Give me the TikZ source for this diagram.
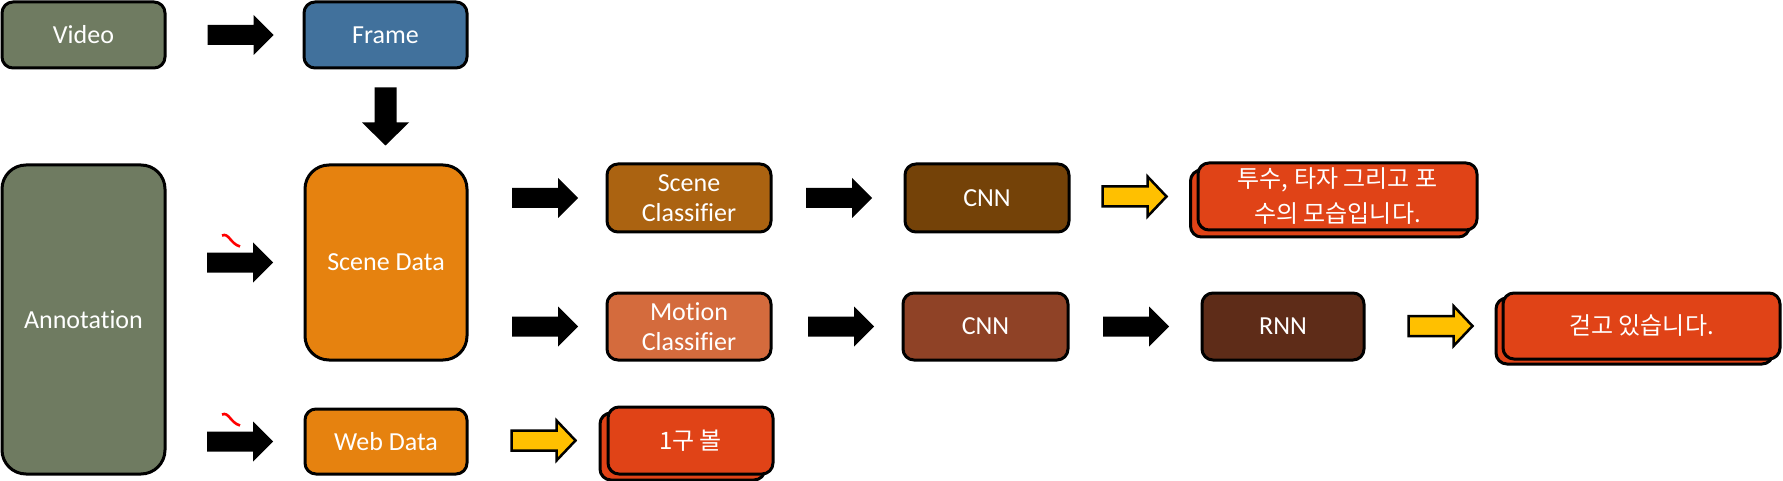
\documentclass[tikz,border=0pt]{standalone}
\usepackage{fontspec}
\setmainfont{Carlito}[Ligatures=NoCommon]
\newfontfamily\kr{Noto Sans CJK KR}
\usetikzlibrary{calc}
\definecolor{grayg}{HTML}{6F7B61}
\definecolor{blueb}{HTML}{41719C}
\definecolor{orangeb}{HTML}{E6820F}
\definecolor{scenec}{HTML}{AB6311}
\definecolor{cnna}{HTML}{744208}
\definecolor{motionc}{HTML}{D46B3D}
\definecolor{cnnb}{HTML}{8F4226}
\definecolor{rnnc}{HTML}{5E2C18}
\definecolor{redbox}{HTML}{E04317}
\definecolor{yellowa}{HTML}{FFC000}
\tikzset{
  box/.style={draw=black, line width=3pt, rounded corners=11pt, text=white, align=center,
    font=\fontsize{26}{30}\selectfont, inner sep=0pt},
  krbox/.style={box, fill=redbox, font=\kr\fontsize{24}{35}\selectfont},
  pics/blackarrow/.style={code={
    \fill[black] (-33,-10) -- (13,-10) -- (13,-20) -- (33,0) -- (13,20) -- (13,10) -- (-33,10) -- cycle;}},
  pics/markarrow/.style={code={
    \fill[black] (-33,-10) -- (13,-10) -- (13,-20) -- (33,0) -- (13,20) -- (13,10) -- (-33,10) -- cycle;
    \draw[red, line width=2.6pt] (-18,-27) .. controls (-11,-30) and (-10,-19) .. (0,-16);}},
  pics/yellowarrow/.style={code={
    \filldraw[fill=yellowa, draw=black, line width=2.5pt, line join=miter]
      (-32,-10) -- (13,-10) -- (13,-20) -- (32,0) -- (13,20) -- (13,10) -- (-32,10) -- cycle;}},
  pics/downarrow/.style={code={
    \fill[black] (-11,-29) -- (11,-29) -- (11,6) -- (23.5,6) -- (0,29) -- (-23.5,6) -- (-11,6) -- cycle;}}
}
\newcommand\hconn[4][0]{\path let \p1=(#2.east), \p2=(#3.west) in pic at ({(\x1+\x2)/2+#1},\y2) {#4};}
\begin{document}
\begin{tikzpicture}[x=1pt,y=-1pt]
\useasboundingbox (0,0) rectangle (1783,481);
% left column
\node[box, fill=grayg, minimum width=163pt, minimum height=66pt] (video) at (83.5,35) {Video};
\node[box, fill=grayg, minimum width=163pt, minimum height=309pt, rounded corners=24pt] (annot) at (83.5,319.5) {Annotation};
% second column
\node[box, fill=blueb, minimum width=163pt, minimum height=66pt] (frame) at (385.5,35) {Frame};
\node[box, fill=orangeb, minimum width=162pt, minimum height=195pt, rounded corners=24pt] (scene) at (386,262.5) {Scene Data};
\node[box, fill=orangeb, minimum width=162pt, minimum height=65pt] (web) at (386,441.5) {Web Data};
% classifiers
\node[box, fill=scenec, minimum width=164pt, minimum height=68pt] (scls) at (689,198) {Scene\\Classifier};
\node[box, fill=motionc, minimum width=164pt, minimum height=67pt] (mcls) at (689,326.5) {Motion\\Classifier};
\node[box, fill=cnna, minimum width=164pt, minimum height=68pt] (cnna) at (987,198) {CNN};
\node[box, fill=cnnb, minimum width=165pt, minimum height=67pt] (cnnb) at (985.5,326.5) {CNN};
\node[box, fill=rnnc, minimum width=162pt, minimum height=67pt] (rnn) at (1283,326.5) {RNN};
% output stacks
\node[krbox, minimum width=279pt, minimum height=67pt] (outaback) at (1330,203.5) {};
\node[krbox, minimum width=279pt, minimum height=67pt] (outa) at (1337.5,196.5) {투수, 타자 그리고 포\\수의 모습입니다.};
\node[krbox, minimum width=277pt, minimum height=66pt] (outbback) at (1634.5,331) {};
\node[krbox, minimum width=277pt, minimum height=66pt] (outb) at (1641.5,326) {걷고 있습니다.};
\node[krbox, minimum width=165pt, minimum height=67pt] (outcback) at (682.5,446.5) {};
\node[krbox, minimum width=165pt, minimum height=67pt] (outc) at (690.5,440.5) {1구 볼};
% connectors
\hconn[6]{video}{frame}{blackarrow}
\path let \p1=(frame.south), \p2=(scene.north) in pic at (\x1,{(\y1+\y2)/2}) {downarrow};
\hconn[5]{annot}{scene}{markarrow}
\hconn[5]{annot}{web}{markarrow}
\hconn[8]{scene}{scls}{blackarrow}
\hconn[8]{scene}{mcls}{blackarrow}
\hconn[1]{scls}{cnna}{blackarrow}
\hconn[4]{mcls}{cnnb}{blackarrow}
\hconn[1]{cnnb}{rnn}{blackarrow}
\hconn[6]{web}{outc}{yellowarrow}
\hconn[1]{cnna}{outa}{yellowarrow}
\hconn[7]{rnn}{outb}{yellowarrow}
\end{tikzpicture}
\end{document}
